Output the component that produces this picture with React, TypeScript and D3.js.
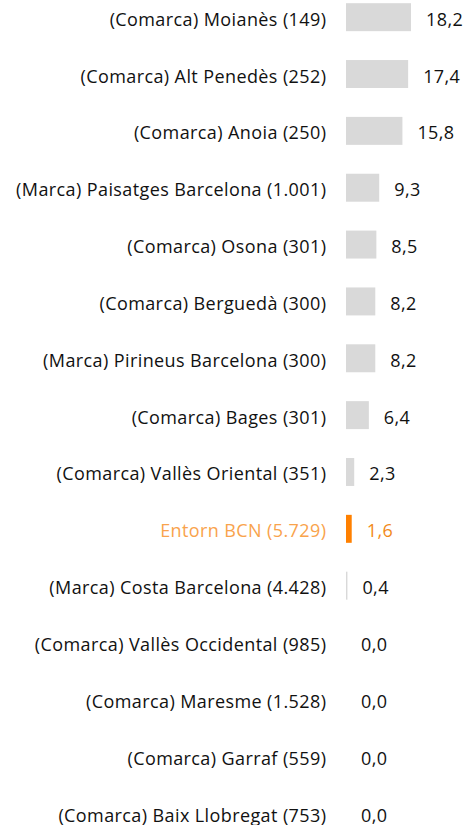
import React from "react";
import * as d3 from "d3";

const categories = [
  "(Comarca) Moianès (149)",
  "(Comarca) Alt Penedès (252)",
  "(Comarca) Anoia (250)",
  "(Marca) Paisatges Barcelona (1.001)",
  "(Comarca) Osona (301)",
  "(Comarca) Berguedà (300)",
  "(Marca) Pirineus Barcelona (300)",
  "(Comarca) Bages (301)",
  "(Comarca) Vallès Oriental (351)",
  "Entorn BCN (5.729)",
  "(Marca) Costa Barcelona (4.428)",
  "(Comarca) Vallès Occidental (985)",
  "(Comarca) Maresme (1.528)",
  "(Comarca) Garraf (559)",
  "(Comarca) Baix Llobregat (753)",
];
const values = [18.2, 17.4, 15.8, 9.3, 8.5, 8.2, 8.2, 6.4, 2.3, 1.6, 0.4, 0.0, 0.0, 0.0, 0.0];
const highlight = "Entorn BCN (5.729)";

export default function App() {
  const width = 467;
  const height = 825;
  const x0 = 346;
  const x = d3.scaleLinear().domain([0, 18.2]).range([x0, 411]);
  const y = d3
    .scaleBand<string>()
    .domain(categories)
    .range([-11.25, 841.5])
    .paddingInner(0.508)
    .paddingOuter(0.254);
  const fmt = (v: number) => v.toFixed(1).replace(".", ",");
  const font = "'Open Sans', sans-serif";
  return (
    <svg
      width={width}
      height={height}
      style={{ position: "absolute", left: 0, top: 0 }}
      fontFamily={font}
    >
      {categories.map((c, i) => {
        const v = values[i];
        const isH = c === highlight;
        const yc = (y(c) as number) + y.bandwidth() / 2;
        return (
          <g key={c}>
            <text
              x={326.4}
              y={yc + 8.5}
              textAnchor="end"
              fontSize={18}
              letterSpacing={0.4}
              fill={isH ? "#F9A34C" : "#111"}
            >
              {c}
            </text>
            <rect
              x={x0}
              y={y(c) as number}
              width={Math.max(0, x(v) - x0) || 0}
              height={y.bandwidth()}
              fill={isH ? "#FF8000" : "#D9D9D9"}
            />
            <text
              x={x(v) + 15}
              y={yc + 8.5}
              fontSize={18}
              letterSpacing={0.4}
              fill={isH ? "#F28A1A" : "#111"}
            >
              {fmt(v)}
            </text>
          </g>
        );
      })}
    </svg>
  );
}
